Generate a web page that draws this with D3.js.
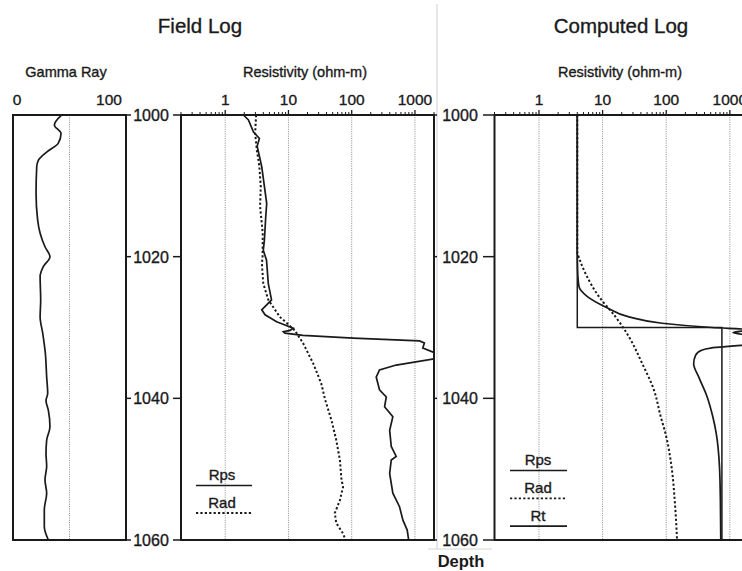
<!DOCTYPE html>
<html><head><meta charset="utf-8">
<script src="https://cdn.jsdelivr.net/npm/d3@7"></script>
<style>
html,body{margin:0;padding:0;background:#fff;}
svg{display:block;font-family:"Liberation Sans",Arial,Helvetica,sans-serif;}
svg text.w{stroke:#1a1a1a;stroke-width:0.35px;}
</style></head>
<body><svg id="chart" width="742" height="571"></svg>
<script>
// ---------- data ----------
const depthTicks = [1000, 1020, 1040, 1060];
const gammaTicks = [0, 100];
const gammaGrid = [50];
const resTicks = [1, 10, 100, 1000];

const gammaDepth = [1000,1001.4,1002.6,1004,1005.2,1006.4,1007.3,1011,1014.8,1016.7,1018.6,1020,1021.4,1022.8,1026.1,1028.5,1030.8,1033.6,1037,1039.3,1040.3,1041.7,1044,1045.9,1047.8,1049.6,1051.5,1053.4,1055.7,1058.1,1060];
const gammaValues = [43,36.6,42.5,40,30,22.4,21,20.4,21.8,24,28.3,32.7,26.8,24,24.5,24,26.3,28.6,29.8,30.7,29.2,31.3,32.7,29.8,29.2,29.8,28.3,29.8,27.7,27.7,31.3];

const fieldRpsDepth = [1000,1000.7,1002.4,1003.3,1004.4,1007.3,1010.1,1012.5,1014.4,1017.6,1019.1,1020.5,1023.8,1026.1,1027.5,1028.2,1029.2,1030.1,1030.4,1030.6,1030.8,1031.1,1031.5,1031.9,1032.2,1032.9,1033.6,1034.4,1035.3,1036,1037,1038.8,1039.8,1041.2,1042.6,1044.5,1046.8,1048.2,1048.7,1050.6,1053.4,1055.3,1057.2,1058.6,1060];
const fieldRpsValues = [1.94,2.33,2.8,3.47,3.2,3.78,4.17,4.53,4.37,4.17,4.0,4.5,4.8,5.4,3.78,4.27,6.5,11.9,10.6,8.3,8.8,17,105,1180,1410,1330,2100,2100,505,275,244,275,352,331,447,398,422,505,422,398,447,570,645,754,795];

const fieldRadDepth = [1000,1002.6,1004.9,1007.3,1010.1,1012.9,1016.7,1020,1021,1023.8,1026.1,1028.5,1030.4,1032.2,1035.1,1037.9,1040.2,1043.1,1045.9,1048.7,1051.5,1052.5,1054.4,1056.2,1057.6,1059.1,1060];
const fieldRadValues = [3.08,2.97,3.16,3.47,3.65,3.56,3.92,3.9,3.8,4.0,4.8,7.3,12.6,17,24.7,33,38,47.9,57,65,69,73,65,54,57,73,80];

const compRtDepth = [1000, 1030, 1030, 1060];
const compRtValues = [4, 4, 750, 750];

const compRpsDepth = [1000,1019,1022,1024.2,1025.6,1027.1,1028.5,1029.4,1030,1030.3,1030.7,1031.2,1032.4,1032.6,1032.9,1033.2,1033.9,1035.1,1037,1039.8,1042.6,1044.9,1049.6,1054.4,1060];
const compRpsValues = [4,4,4.05,4.25,5.7,11.1,25.9,86,525,2100,1120,2100,2100,1200,500,360,290,270,325,440,540,610,687,710,720];

const compRadDepth = [1000,1019.3,1020.5,1022.4,1025.6,1028.5,1031.3,1035.1,1038.8,1042.6,1044.9,1049.6,1054.4,1060];
const compRadValues = [4,4,4.4,5.4,8.7,16,25.9,42,64,82,97,121,136,148];

const fieldLegend = ["Rps", "Rad"];
const compLegend = ["Rps", "Rad", "Rt"];

// ---------- layout ----------
const svg = d3.select("#chart");
const yTop = 115, yBot = 540;
const y = d3.scaleLinear().domain([1000, 1060]).range([yTop, yBot]);
const xG = d3.scaleLinear().domain([0, 100]).range([13, 126]);
const xF = d3.scaleLog().domain([0.2, 2000]).range([181, 434]);
const xC = d3.scaleLog().domain([0.2, 2000]).range([494.5, 749]);
const ink = "#1a1a1a";

// divider
svg.append("line").attr("x1", 437).attr("x2", 437).attr("y1", 4).attr("y2", 549)
  .attr("stroke", "#cfcfcf").attr("stroke-width", 1);
// Depth box
svg.append("path").attr("d", "M428,549H492").attr("stroke", "#d6d6d6").attr("fill", "none");
svg.append("text").attr("x", 461).attr("y", 567).attr("text-anchor", "middle")
  .attr("font-size", 16.5).attr("font-weight", "bold").attr("fill", ink).text("Depth");

// titles
svg.append("text").attr("class", "w").attr("x", 200).attr("y", 33).attr("text-anchor", "middle")
  .attr("font-size", 20.5).attr("fill", ink).text("Field Log");
svg.append("text").attr("class", "w").attr("x", 621).attr("y", 33).attr("text-anchor", "middle")
  .attr("font-size", 20.5).attr("fill", ink).text("Computed Log");

function subtitle(x, t) {
  svg.append("text").attr("class", "w").attr("x", x).attr("y", 77).attr("text-anchor", "middle")
    .attr("font-size", 14.5).attr("fill", ink).text(t);
}
subtitle(66, "Gamma Ray");
subtitle(305, "Resistivity (ohm-m)");
subtitle(620, "Resistivity (ohm-m)");

function grid(g, xs, vals) {
  g.selectAll("line.grid").data(vals).enter().append("line").attr("class", "grid")
    .attr("x1", d => xs(d)).attr("x2", d => xs(d)).attr("y1", yTop).attr("y2", yBot)
    .attr("stroke", "#8a8a8a").attr("stroke-width", 1).attr("stroke-dasharray", "1,1.3");
}
function frame(g, x0, x1) {
  g.append("rect").attr("x", x0).attr("y", yTop).attr("width", x1 - x0).attr("height", yBot - yTop)
    .attr("fill", "none").attr("stroke", ink).attr("stroke-width", 2);
}

// ---------- Gamma panel ----------
const gG = svg.append("g");
grid(gG, xG, gammaGrid);
gG.selectAll("text.tl").data(gammaTicks).enter().append("text").attr("class", "tl w")
  .attr("x", (d, i) => xG(d) + (i === 0 ? 4 : -17)).attr("y", 105).attr("text-anchor", "middle")
  .attr("font-size", 15.5).attr("fill", ink).text(d => d);
const lineG = d3.line().x((d, i) => xG(gammaValues[i])).y(d => y(d)).curve(d3.curveMonotoneY);
gG.append("path").attr("d", lineG(gammaDepth)).attr("fill", "none").attr("stroke", ink).attr("stroke-width", 1.7);
frame(gG, 13, 126);

// ---------- Depth axes ----------
function depthAxis(xlab, t1a, t1b, t2a, t2b) {
  const g = svg.append("g");
  g.selectAll("text").data(depthTicks).enter().append("text").attr("class", "w")
    .attr("x", xlab).attr("y", d => y(d) + 6).attr("text-anchor", "middle")
    .attr("font-size", 16).attr("fill", ink).text(d => d);
  g.selectAll("line.a").data(depthTicks).enter().append("line").attr("class", "a")
    .attr("x1", t1a).attr("x2", t1b).attr("y1", d => y(d)).attr("y2", d => y(d))
    .attr("stroke", ink).attr("stroke-width", 1.5);
  g.selectAll("line.b").data(depthTicks).enter().append("line").attr("class", "b")
    .attr("x1", t2a).attr("x2", t2b).attr("y1", d => y(d)).attr("y2", d => y(d))
    .attr("stroke", ink).attr("stroke-width", 1.5);
}
depthAxis(151, 126, 131, 173, 181);
depthAxis(460, 434, 437, 483, 494.5);

// ---------- log panels ----------
function logPanel(xs, x0, x1, id) {
  const g = svg.append("g");
  g.append("clipPath").attr("id", id).append("rect")
    .attr("x", x0).attr("y", yTop - 1).attr("width", x1 - x0).attr("height", yBot - yTop + 2);
  grid(g, xs, resTicks);
  const minors = [];
  [0.1, 1, 10, 100, 1000].forEach(dec => { for (let k = 2; k <= 9; k++) { const v = dec * k; if (v >= 0.2 && v <= 2000) minors.push(v); } });
  g.selectAll("line.mn").data(minors).enter().append("line").attr("class", "mn")
    .attr("x1", d => xs(d)).attr("x2", d => xs(d)).attr("y1", yTop).attr("y2", yTop - 3)
    .attr("stroke", ink).attr("stroke-width", 1);
  g.selectAll("line.mj").data(resTicks).enter().append("line").attr("class", "mj")
    .attr("x1", d => xs(d)).attr("x2", d => xs(d)).attr("y1", yTop).attr("y2", yTop - 5)
    .attr("stroke", ink).attr("stroke-width", 1.3);
  g.selectAll("text.tl").data(resTicks).enter().append("text").attr("class", "tl w")
    .attr("x", d => xs(d)).attr("y", 105).attr("text-anchor", "middle")
    .attr("font-size", 15.5).attr("fill", ink).text(d => d);
  frame(g, x0, x1);
  return g;
}
function curve(g, xs, depths, vals, id, dashed, smooth, w) {
  const ln = d3.line().x((d, i) => xs(vals[i])).y(d => y(d))
    .curve(smooth ? d3.curveMonotoneY : d3.curveLinear);
  g.append("path").attr("d", ln(depths)).attr("clip-path", `url(#${id})`)
    .attr("fill", "none").attr("stroke", ink).attr("stroke-width", w || 1.7)
    .attr("stroke-dasharray", dashed ? "2.2,2.2" : null);
}

const gF = logPanel(xF, 181, 434, "clipF");
curve(gF, xF, fieldRadDepth, fieldRadValues, "clipF", true, false, 2);
curve(gF, xF, fieldRpsDepth, fieldRpsValues, "clipF", false, false, 1.7);

const gC = logPanel(xC, 494.5, 749, "clipC");
curve(gC, xC, compRtDepth, compRtValues, "clipC", false, false, 1.5);
curve(gC, xC, compRadDepth, compRadValues, "clipC", true, true, 2);
curve(gC, xC, compRpsDepth, compRpsValues, "clipC", false, true, 1.7);

// ---------- legends ----------
function legend(items, cx, x0, x1, y0, step) {
  const g = svg.append("g");
  items.forEach((t, i) => {
    const yy = y0 + i * step;
    g.append("text").attr("class", "w").attr("x", cx).attr("y", yy).attr("text-anchor", "middle")
      .attr("font-size", 15).attr("fill", ink).text(t);
    g.append("line").attr("x1", x0).attr("x2", x1).attr("y1", yy + 5.5).attr("y2", yy + 5.5)
      .attr("stroke", ink).attr("stroke-width", t === "Rad" ? 1.8 : 1.6)
      .attr("stroke-dasharray", t === "Rad" ? "2.2,2.2" : null);
  });
}
legend(fieldLegend, 222, 196, 252, 480, 27.5);
legend(compLegend, 538, 510, 567, 465, 27.8);
</script></body></html>
